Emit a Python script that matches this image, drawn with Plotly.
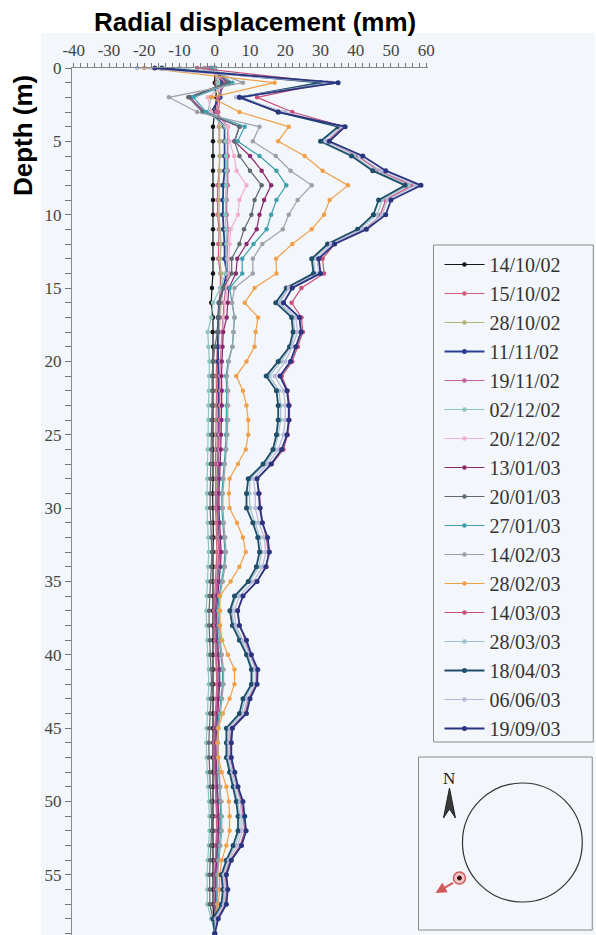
import plotly.graph_objects as go

# ---------------- data ----------------
depth = list(range(0, 60))

x_tickvals = [-40, -30, -20, -10, 0, 10, 20, 30, 40, 50, 60]
x_ticktext = ["-40", "-30", "-20", "-10", "0", "10", "20", "30", "40", "50", "60"]
y_tickvals = [0, 5, 10, 15, 20, 25, 30, 35, 40, 45, 50, 55]
y_ticktext = ["0", "5", "10", "15", "20", "25", "30", "35", "40", "45", "50", "55"]

dates = ["14/10/02", "15/10/02", "28/10/02", "11/11/02", "19/11/02", "02/12/02",
         "20/12/02", "13/01/03", "20/01/03", "27/01/03", "14/02/03", "28/02/03",
         "14/03/03", "28/03/03", "18/04/03", "06/06/03", "19/09/03"]

colors = ["#151515", "#d0607c", "#b3b27a", "#2b3f8f", "#c4609a", "#8cc4bf",
          "#f0b0cc", "#8a2a6e", "#5d6a70", "#3fa0ae", "#9aa2a8", "#f0a048",
          "#c8507a", "#9ec0cc", "#1f4e6a", "#b8b8d8", "#2a3580"]

d_141002 = [0, 0, 0.5, 0, -0.5, -0.5, -0.5, -0.5, -0.5, -0.5,
            -0.5, -0.5, -0.5, -0.5, -0.5, -0.8, -1.0, -0.5, -0.6, -0.5,
            -0.5, -0.4, -0.5, -0.5, -0.6, -0.5, -0.5, -0.4, -0.5, -0.6,
            -0.5, -0.5, -0.4, -0.5, -0.5, -0.6, -0.5, -0.5, -0.5, -0.4,
            -0.5, -0.5, -0.5, -0.6, -0.5, -0.5, -0.4, -0.5, -0.5, -0.5,
            -0.6, -0.5, -0.5, -0.5, -0.4, -0.5, -0.5, -0.5, -0.3, 0.0]
d_151002 = [0, 0.5, 1.5, 1.0, 1.2, 1.4, 1.4, 1.3, 0.8, 0.8,
            0.8, 1.2, 1.0, 1.0, 1.6, 1.6, 1.2, 1.0, 0.8, 0.6,
            0.5, 0.4, 0.5, 0.4, 0.3, 0.4, 0.3, 0.2, 0.3, 0.2,
            0.2, 0.4, 0.6, 0.6, 0.4, 0.2, 0.0, -0.2, -0.1, 0.1,
            0.3, 0.6, 0.6, 0.4, 0.2, 0.0, -0.2, -0.1, 0.1, 0.3,
            0.4, 0.5, 0.5, 0.3, 0.2, 0.0, 0.1, 0.0, -0.1, 0.0]
d_281002 = [0, 1.0, 1.0, 0.5, 1.4, 1.4, 1.4, 1.4, 1.4, 1.2,
            1.2, 1.5, 1.8, 1.5, 1.8, 2.4, 1.8, 1.5, 1.2, 1.0,
            0.9, 0.8, 0.9, 0.8, 0.8, 0.7, 0.6, 0.6, 0.5, 0.5,
            0.5, 0.7, 0.9, 1.0, 0.8, 0.5, 0.3, 0.1, 0.2, 0.4,
            0.6, 0.9, 0.9, 0.7, 0.4, 0.2, 0.0, 0.1, 0.3, 0.5,
            0.7, 0.8, 0.8, 0.6, 0.4, 0.2, 0.3, 0.2, 0.0, 0.0]
d_111102 = [0, 2.0, 1.5, -1.0, 2.8, 2.8, 2.8, 2.8, 2.4, 2.3,
            2.3, 2.5, 2.8, 2.8, 3.4, 2.4, 1.2, 1.0, 0.8, 0.9,
            1.0, 1.2, 1.3, 1.2, 1.2, 1.1, 1.0, 0.9, 0.8, 0.8,
            0.8, 1.1, 1.4, 1.5, 1.3, 0.9, 0.4, 0.2, 0.3, 0.6,
            0.9, 1.3, 1.3, 1.0, 0.6, 0.2, 0.0, 0.1, 0.4, 0.7,
            1.0, 1.1, 1.1, 0.8, 0.5, 0.2, 0.3, 0.2, 0.0, 0.0]
d_191102 = [-2.0, 3.0, 1.0, 0.5, 3.7, 3.6, 3.7, 3.7, 3.7, 3.4,
            3.4, 3.8, 3.6, 3.5, 3.6, 3.0, 2.6, 2.4, 2.0, 1.8,
            1.6, 1.4, 1.5, 1.4, 1.3, 1.2, 1.1, 1.0, 0.8, 0.6,
            0.6, 0.8, 1.0, 1.1, 0.9, 0.6, 0.2, 0.0, 0.1, 0.3,
            0.5, 0.8, 0.8, 0.6, 0.3, 0.0, -0.2, -0.1, 0.1, 0.3,
            0.5, 0.6, 0.6, 0.4, 0.2, 0.0, 0.1, 0.0, -0.1, 0.0]
d_021202 = [0, 1.0, -1.0, -2.0, 3.0, 3.0, 3.2, 3.3, 3.2, 3.0,
            3.0, 3.2, 3.3, 3.5, 3.0, 1.6, -0.5, -1.0, -2.0, -1.8,
            -1.5, -1.6, -1.7, -1.8, -1.8, -1.9, -2.0, -2.0, -2.1, -2.2,
            -2.2, -2.0, -1.8, -1.7, -1.9, -2.1, -2.3, -2.4, -2.3, -2.1,
            -1.9, -1.7, -1.7, -1.9, -2.1, -2.3, -2.4, -2.3, -2.1, -1.9,
            -1.6, -1.5, -1.5, -1.7, -2.0, -2.2, -2.1, -2.1, -1.0, 0.0]
d_201202 = [-3.0, 4.0, -2.0, -1.0, 3.7, 4.2, 5.5, 6.2, 9.0, 7.0,
            6.6, 4.5, 4.2, 4.0, 4.2, 3.5, 3.0, 2.6, 2.2, 2.0,
            1.8, 1.7, 1.8, 1.8, 1.7, 1.6, 1.5, 1.3, 1.2, 1.1,
            1.1, 1.3, 1.5, 1.6, 1.4, 1.1, 0.7, 0.5, 0.6, 0.8,
            1.1, 1.4, 1.4, 1.1, 0.8, 0.5, 0.3, 0.4, 0.6, 0.8,
            1.0, 1.1, 1.1, 0.9, 0.6, 0.4, 0.5, 0.4, 0.1, 0.0]
d_130103 = [-1.0, 4.0, -7.0, -3.0, 7.0, 5.6, 10.0, 13.3, 16.0, 14.0,
            12.7, 11.9, 9.0, 6.4, 6.0, 4.0, 3.7, 3.4, 2.4, 2.2,
            2.0, 1.9, 2.0, 2.0, 1.9, 1.8, 1.7, 1.5, 1.3, 1.2,
            1.2, 1.4, 1.7, 1.8, 1.6, 1.2, 0.7, 0.5, 0.6, 0.8,
            1.1, 1.4, 1.4, 1.1, 0.8, 0.4, 0.3, 0.4, 0.6, 0.8,
            1.0, 1.1, 1.1, 0.8, 0.5, 0.3, 0.3, 0.2, 0.0, 0.0]
d_200103 = [-1.0, 3.5, -7.5, -3.5, 7.0, 5.6, 7.0, 10.0, 13.3, 11.3,
            10.4, 8.3, 7.0, 4.8, 4.8, 2.4, 1.2, 1.0, 0.8, 0.0,
            -0.5, -0.8, -0.7, -0.8, -0.9, -1.0, -1.0, -1.1, -1.2, -1.3,
            -1.3, -1.1, -0.9, -0.8, -1.0, -1.2, -1.5, -1.6, -1.6, -1.4,
            -1.2, -0.9, -0.9, -1.1, -1.3, -1.6, -1.7, -1.6, -1.4, -1.2,
            -1.0, -0.9, -0.9, -1.1, -1.3, -1.5, -1.4, -1.4, -0.5, 0.0]
d_270103 = [-1.0, 5.0, -6.0, -2.5, 8.5, 6.5, 12.7, 17.5, 20.3, 17.5,
            16.0, 14.7, 11.0, 7.8, 7.8, 4.2, 4.9, 5.6, 5.3, 5.0,
            3.8, 3.2, 3.4, 3.4, 3.4, 3.2, 3.0, 2.6, 2.2, 2.0,
            2.0, 2.3, 2.7, 2.9, 2.6, 2.0, 1.2, 0.9, 1.0, 1.3,
            1.7, 2.2, 2.2, 1.8, 1.3, 0.8, 0.7, 0.8, 1.1, 1.4,
            1.6, 1.7, 1.7, 1.3, 0.9, 0.6, 0.6, 0.5, 0.0, 0.0]
d_140203 = [-3.0, 8.0, -13.0, -5.0, 12.7, 10.8, 17.3, 21.5, 27.5, 23.5,
            21.0, 19.3, 13.5, 10.8, 10.8, 5.6, 4.9, 5.6, 5.3, 5.0,
            4.0, 3.5, 3.8, 3.8, 3.8, 3.6, 3.3, 2.9, 2.5, 2.3,
            2.3, 2.6, 3.0, 3.2, 2.9, 2.3, 1.5, 1.2, 1.3, 1.6,
            2.0, 2.5, 2.5, 2.1, 1.6, 1.0, 0.9, 1.0, 1.3, 1.6,
            1.9, 2.0, 2.0, 1.6, 1.1, 0.8, 0.8, 0.7, 0.1, 0.0]
d_280203 = [-20.0, 17.0, -1.0, 7.0, 21.0, 18.0, 25.5, 30.6, 37.8, 32.6,
            31.0, 27.5, 22.0, 17.4, 17.5, 11.3, 8.5, 12.3, 11.6, 11.3,
            9.0, 6.1, 8.0, 9.0, 9.5, 9.5, 8.8, 6.6, 4.2, 4.0,
            4.2, 6.3, 8.0, 8.8, 7.0, 4.5, 1.4, 1.5, 1.5, 2.1,
            3.7, 5.6, 5.6, 4.2, 2.3, 1.0, 0.7, 1.0, 2.0, 3.3,
            4.0, 4.2, 4.2, 3.3, 2.0, 1.4, 1.4, 1.0, 0.0, 0.0]
d_140303 = [-5.0, 32.0, 12.0, 22.0, 36.5, 32.0, 40.5, 46.5, 56.0, 48.5,
            47.0, 43.0, 34.0, 30.6, 31.0, 24.6, 21.8, 24.6, 25.0, 23.6,
            22.0, 19.0, 20.7, 21.2, 21.2, 20.7, 19.5, 16.2, 12.0, 12.7,
            13.0, 13.6, 14.6, 15.2, 14.7, 12.0, 8.0, 6.5, 7.0, 8.7,
            10.0, 11.8, 11.8, 9.6, 8.6, 4.7, 4.4, 4.4, 5.4, 6.3,
            7.6, 8.1, 8.5, 7.2, 4.4, 3.0, 3.4, 3.0, 0.7, 0.0]
d_280303 = [-10.0, 31.0, 8.0, 19.0, 35.5, 30.5, 39.5, 45.5, 55.0, 47.5,
            46.0, 41.0, 32.5, 28.0, 28.5, 20.8, 18.0, 22.3, 22.7, 21.6,
            18.8, 15.5, 18.2, 18.7, 18.7, 18.0, 17.0, 14.3, 10.0, 9.8,
            10.0, 11.5, 12.8, 13.3, 12.5, 10.0, 6.0, 4.8, 5.5, 7.5,
            9.4, 10.8, 10.8, 8.6, 7.6, 3.8, 3.6, 3.6, 4.6, 5.6,
            6.6, 7.1, 7.2, 5.8, 3.6, 2.2, 2.7, 2.3, 0.0, 0.0]
d_180403 = [-15.0, 30.0, 7.0, 18.0, 35.0, 30.0, 38.8, 44.8, 54.0, 46.5,
            45.0, 40.5, 32.0, 27.5, 28.0, 20.3, 17.3, 21.8, 22.2, 21.2,
            18.0, 14.6, 17.5, 18.0, 18.0, 17.5, 16.5, 13.7, 9.5, 9.0,
            9.0, 10.8, 12.2, 12.7, 11.8, 9.5, 5.6, 4.3, 5.0, 7.0,
            9.0, 10.4, 10.4, 8.0, 7.0, 3.3, 3.3, 3.3, 4.2, 5.2,
            6.1, 6.6, 6.6, 5.2, 3.3, 1.9, 2.3, 1.9, -0.5, 0.0]
d_060603 = [-22.0, 33.0, 6.0, 20.0, 36.0, 31.5, 41.0, 47.0, 57.0, 49.0,
            47.5, 42.0, 33.0, 29.0, 29.5, 21.0, 18.5, 23.0, 23.5, 22.0,
            20.0, 17.0, 19.5, 20.0, 20.0, 19.5, 18.0, 15.0, 11.0, 11.5,
            11.5, 12.5, 14.0, 14.5, 13.5, 11.0, 7.0, 5.5, 6.0, 8.0,
            10.0, 11.5, 11.5, 9.2, 8.2, 4.3, 4.0, 4.0, 5.0, 6.0,
            7.2, 7.6, 7.8, 6.5, 4.0, 2.6, 3.0, 2.6, 0.3, 0.0]
d_190903 = [-17.0, 35.0, 7.0, 18.0, 37.0, 32.5, 42.0, 48.5, 58.5, 50.0,
            48.5, 43.0, 34.0, 29.5, 30.0, 22.0, 19.5, 24.0, 24.5, 23.0,
            21.5, 18.5, 20.5, 21.0, 21.0, 20.5, 19.0, 16.0, 12.0, 12.5,
            12.8, 13.5, 15.0, 15.5, 14.5, 12.0, 8.0, 6.5, 7.0, 9.0,
            10.4, 12.2, 12.0, 10.0, 9.0, 5.0, 4.7, 4.7, 5.7, 6.6,
            8.0, 8.5, 8.9, 7.6, 4.7, 3.3, 3.7, 3.3, 1.0, 0.0]

series = [d_141002, d_151002, d_281002, d_111102, d_191102, d_021202,
          d_201202, d_130103, d_200103, d_270103, d_140203, d_280203,
          d_140303, d_280303, d_180403, d_060603, d_190903]

# ---------------- geometry helpers (pixel -> paper) ----------------
W, H = 596, 935
ML, MT, MB = 72, 68, 0
PW = 356.5
MR = W - ML - PW
PH = H - MT - MB


def px(x):
    return (x - ML) / PW


def py(y):
    return (H - MB - y) / PH


BG = "#f3f6fa"
SERIF = "Liberation Serif, Times New Roman, serif"
SANS = "Liberation Sans, Arial, sans-serif"

fig = go.Figure()
for name, vals, col in zip(dates, series, colors):
    thick = col in ("#2a3580", "#1f4e6a", "#2b3f8f")
    fig.add_trace(go.Scatter(
        x=vals, y=depth, name=name, mode="lines+markers",
        line=dict(color=col, width=1.8 if thick else 1.2),
        marker=dict(color=col, size=5 if thick else 4.5),
        cliponaxis=False,
    ))

shapes = [
    # scanned background region
    dict(type="rect", xref="paper", yref="paper", x0=px(41), x1=px(596),
         y0=py(935), y1=py(33), fillcolor=BG, line=dict(width=0), layer="below"),
    # legend frame
    dict(type="rect", xref="paper", yref="paper", x0=px(434), x1=px(594),
         y0=py(742), y1=py(245), line=dict(color="#8a8a8a", width=1),
         fillcolor="rgba(0,0,0,0)", layer="above"),
    # inset frame
    dict(type="rect", xref="paper", yref="paper", x0=px(419), x1=px(593),
         y0=py(930), y1=py(757), line=dict(color="#8a8a8a", width=1),
         fillcolor="rgba(0,0,0,0)", layer="above"),
    # shaft circle
    dict(type="circle", xref="paper", yref="paper", x0=px(463), x1=px(583),
         y0=py(902), y1=py(783), line=dict(color="#333333", width=1.2),
         fillcolor="rgba(0,0,0,0)", layer="above"),
    # inclinometer marker
    dict(type="circle", xref="paper", yref="paper", x0=px(454), x1=px(466),
         y0=py(884), y1=py(872), line=dict(color="#d05a5a", width=1.5),
         fillcolor="#f4c8c8", layer="above"),
    dict(type="circle", xref="paper", yref="paper", x0=px(458), x1=px(462),
         y0=py(880), y1=py(876), line=dict(color="#3a1010", width=1),
         fillcolor="#3a1010", layer="above"),
]

# north arrow
na = [(450, 788), (444, 818), (450, 809), (456, 818)]
path = "M " + " L ".join(f"{px(a):.5f},{py(b):.5f}" for a, b in na) + " Z"
shapes.append(dict(type="path", xref="paper", yref="paper", path=path,
                   fillcolor="#3a3a3a", line=dict(color="#222222", width=1),
                   layer="above"))

annotations = [
    dict(text="<b>Radial displacement (mm)</b>", xref="paper", yref="paper",
         x=px(255), y=py(22), xanchor="center", yanchor="middle", showarrow=False,
         font=dict(family=SANS, size=26, color="#000000")),
    dict(text="<b>Depth (m)</b>", xref="paper", yref="paper",
         x=px(23), y=py(136), xanchor="center", yanchor="middle", showarrow=False,
         textangle=-90, font=dict(family=SANS, size=26, color="#000000")),
    dict(text="N", xref="paper", yref="paper", x=px(450), y=py(778),
         xanchor="center", yanchor="middle", showarrow=False,
         font=dict(family=SERIF, size=17, color="#222222")),
    dict(text="", xref="paper", yref="paper", x=px(436), y=py(893),
         ax=19, ay=-11, showarrow=True, arrowhead=2, arrowsize=1.1,
         arrowwidth=2, arrowcolor="#d05a5a"),
]

fig.update_layout(
    width=W, height=H,
    margin=dict(l=ML, r=MR, t=MT, b=MB, pad=0),
    paper_bgcolor="white", plot_bgcolor=BG,
    shapes=shapes, annotations=annotations,
    showlegend=True,
    legend=dict(x=px(440), y=py(245), xanchor="left", yanchor="top",
                bgcolor="rgba(0,0,0,0)", borderwidth=0, itemwidth=40,
                font=dict(family=SERIF, size=20, color="#333333"),
                tracegroupgap=0),
    xaxis=dict(range=[-40.5, 60.5], side="top", tickmode="array",
               tickvals=x_tickvals, ticktext=x_ticktext,
               ticks="outside", ticklen=4, tickwidth=1, tickcolor="#777777",
               minor=dict(dtick=2, ticks="outside", ticklen=4, tickcolor="#777777"),
               showline=True, linecolor="#8a8a8a", linewidth=1,
               showgrid=False, zeroline=False,
               tickfont=dict(family=SERIF, size=17, color="#444444")),
    yaxis=dict(range=[59.1, 0], tickmode="array",
               tickvals=y_tickvals, ticktext=y_ticktext,
               ticks="outside", ticklen=6, tickwidth=1, tickcolor="#777777",
               minor=dict(dtick=1, ticks="outside", ticklen=6, tickcolor="#777777"),
               showline=True, linecolor="#8a8a8a", linewidth=1,
               showgrid=False, zeroline=False,
               tickfont=dict(family=SERIF, size=17, color="#444444")),
)

fig.write_html("out.html")
